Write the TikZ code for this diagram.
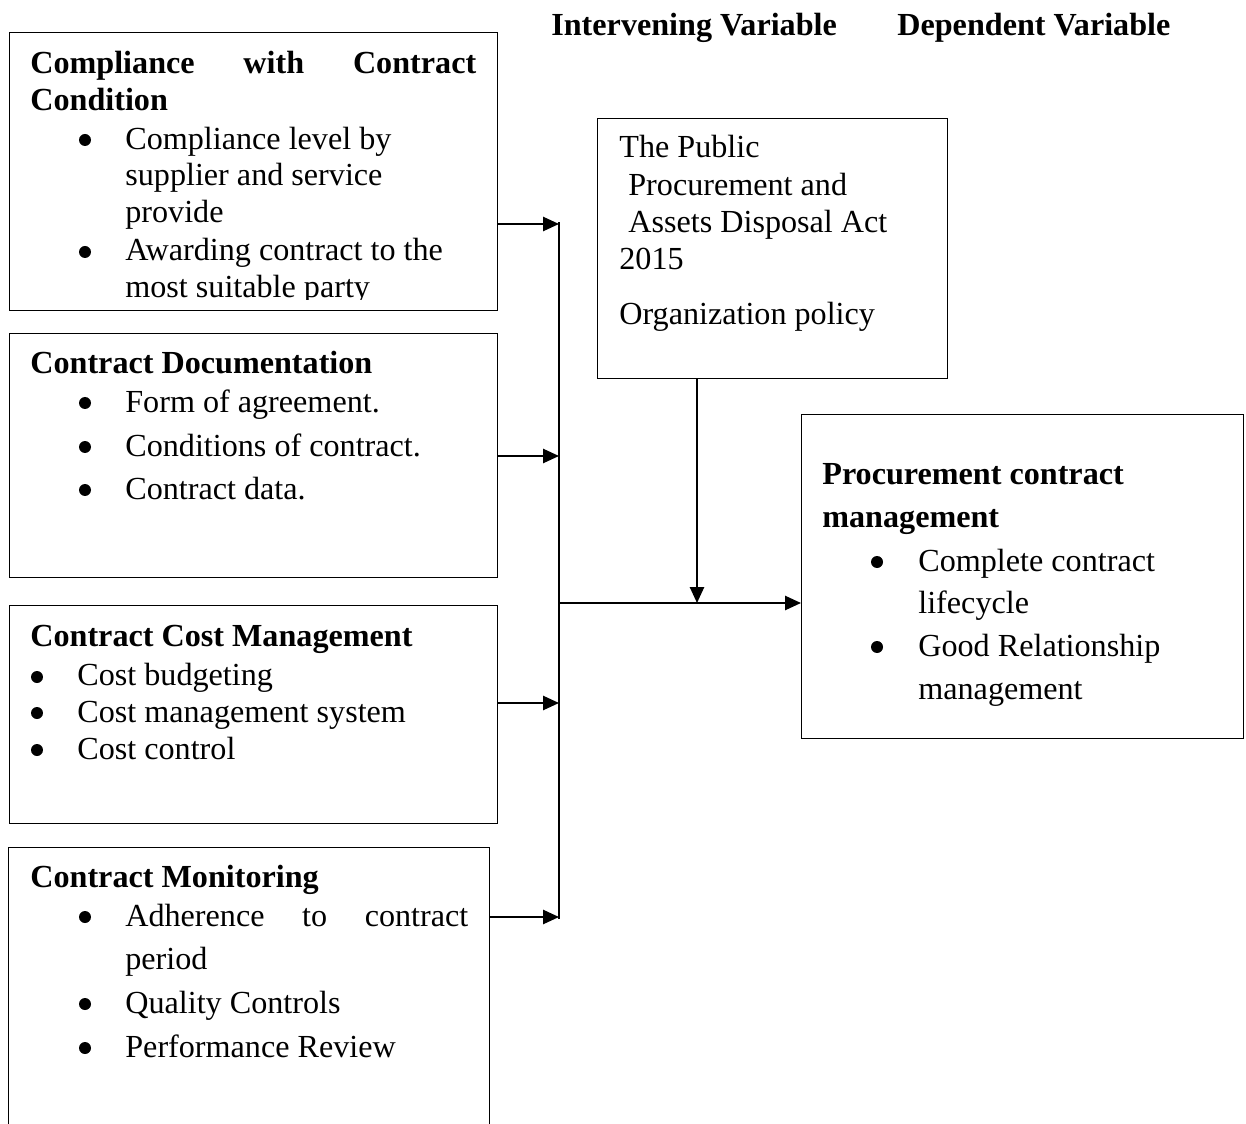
\documentclass[tikz,border=0pt]{standalone}
\usepackage{fontspec}
\setmainfont{Liberation Serif}
\usetikzlibrary{arrows.meta}

\begin{document}
\begin{tikzpicture}[x=0.02cm, y=-0.02cm,
    box/.style={draw, line width=0.7pt, anchor=north west, inner sep=0pt},
    txt/.style={anchor=mid west, inner sep=0pt, font=\fontsize{18.3}{21}\selectfont},
    hd/.style={anchor=mid west, inner sep=0pt, font=\fontsize{18.3}{21}\selectfont\bfseries},
    dot/.style={circle, fill, inner sep=0pt, minimum size=0.24cm},
    bus/.style={line width=0.8pt},
    arr/.style={line width=1.1pt, -{Triangle[length=9pt,width=8pt]}}]
    \useasboundingbox (0,0) rectangle (1246,1124);

    \node[hd] (hint) at (551,31) {Intervening Variable};
    \node[hd] (hdep) at (897,31) {Dependent Variable};

    \node[box, minimum width=9.76cm, minimum height=5.56cm] (comp) at (9,32) {};
    \node[box, minimum width=9.76cm, minimum height=4.88cm] (doc)  at (9,333) {};
    \node[box, minimum width=9.76cm, minimum height=4.36cm] (cost) at (9,605) {};
    \node[box, minimum width=9.62cm, minimum height=6.26cm] (mon)  at (8,847) {};
    \node[box, minimum width=7cm,    minimum height=5.2cm]  (act)  at (597,118) {};
    \node[box, minimum width=8.84cm, minimum height=6.48cm] (pcm)  at (801,414) {};

    \node[hd]  (comph) at (30,69) {\makebox[8.92cm][s]{Compliance with Contract}};
    \node[hd]  (comph2) at (30,106) {Condition};
    \node[dot] (cb1) at (85,140) {};
    \node[txt] (c1) at (125,145) {Compliance level by};
    \node[txt] (c2) at (125,181) {supplier and service};
    \node[txt] (c3) at (125,218) {provide};
    \node[dot] (cb2) at (85,252) {};
    \node[txt] (c4) at (125,256) {Awarding contract to the};
    \begin{scope}
      \clip (0,0) rectangle (1246,300);
      \node[txt] (c5) at (125,293) {most suitable party};
    \end{scope}

    \node[hd]  (doch) at (30,369) {Contract Documentation};
    \node[dot] (db1) at (85,403) {};
    \node[txt] (d1) at (125,408) {Form of agreement.};
    \node[dot] (db2) at (85,447) {};
    \node[txt] (d2) at (125,452) {Conditions of contract.};
    \node[dot] (db3) at (85,490) {};
    \node[txt] (d3) at (125,495) {Contract data.};

    \node[hd]  (costh) at (30,642) {Contract Cost Management};
    \node[dot] (kb1) at (37,677) {};
    \node[txt] (k1) at (77,681) {Cost budgeting};
    \node[dot] (kb2) at (37,713) {};
    \node[txt] (k2) at (77,718) {Cost management system};
    \node[dot] (kb3) at (37,750) {};
    \node[txt] (k3) at (77,755) {Cost control};

    \node[hd]  (monh) at (30,883) {Contract Monitoring};
    \node[dot] (mb1) at (85,917) {};
    \node[txt] (m1) at (125,922) {\makebox[6.86cm][s]{Adherence to contract}};
    \node[txt] (m2) at (125,965) {period};
    \node[dot] (mb3) at (85,1004) {};
    \node[txt] (m3) at (125,1009) {Quality Controls};
    \node[dot] (mb4) at (85,1048) {};
    \node[txt] (m4) at (125,1053) {Performance Review};

    \node[txt] (a1) at (619,153) {The Public};
    \node[txt] (a2) at (628,191) {Procurement and};
    \node[txt] (a3) at (628,228) {Assets Disposal Act};
    \node[txt] (a4) at (619,265) {2015};
    \node[txt] (a5) at (619,320) {Organization policy};

    \node[hd]  (pcmh) at (822,480) {Procurement contract};
    \node[hd]  (pcmh2) at (822,523) {management};
    \node[dot] (pb1) at (877,562) {};
    \node[txt] (p1) at (918,567) {Complete contract};
    \node[txt] (p2) at (918,609) {lifecycle};
    \node[dot] (pb2) at (877,647) {};
    \node[txt] (p3) at (918,652) {Good Relationship};
    \node[txt] (p4) at (918,695) {management};

    \coordinate (b1) at (559,224);
    \coordinate (b2) at (559,456);
    \coordinate (b3) at (559,703);
    \coordinate (b4) at (559,917);
    \coordinate (join) at (697,603);

    \draw[bus] ([yshift=1pt]b1) -- ([yshift=-1pt]b4);
    \draw[arr] (comp.east |- b1) -- (b1);
    \draw[arr] (doc.east |- b2) -- (b2);
    \draw[arr] (cost.east |- b3) -- (b3);
    \draw[arr] (mon.east |- b4) -- (b4);
    \draw[arr] (act.south -| join) -- (join);
    \draw[arr] (b1 |- join) -- (pcm.west |- join);
\end{tikzpicture}
\end{document}
